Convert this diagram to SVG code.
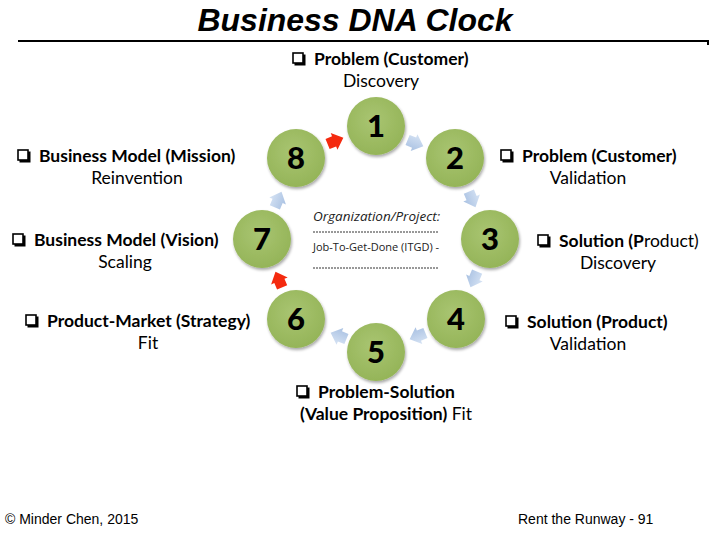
<svg xmlns="http://www.w3.org/2000/svg" width="720" height="540" viewBox="0 0 720 540">
<defs>
  <radialGradient id="g" cx="0.45" cy="0.4" r="0.65">
    <stop offset="0" stop-color="#a9c572"/>
    <stop offset="1" stop-color="#93b356"/>
  </radialGradient>
  <linearGradient id="b" x1="0" y1="0" x2="0" y2="1">
    <stop offset="0" stop-color="#d6e3f4"/>
    <stop offset="1" stop-color="#a9c1e2"/>
  </linearGradient>
  <filter id="sh" x="-20%" y="-20%" width="150%" height="150%">
    <feGaussianBlur in="SourceAlpha" stdDeviation="1.5"/>
    <feOffset dx="1" dy="2"/>
    <feComponentTransfer><feFuncA type="linear" slope="0.35"/></feComponentTransfer>
    <feMerge><feMergeNode/><feMergeNode in="SourceGraphic"/></feMerge>
  </filter>
  <path id="arr" d="M-8,-5.5 L-1,-5.5 L-1,-9 L9,0 L-1,9 L-1,5.5 L-8,5.5 Z"/>
  <g id="cb">
    <rect x="1.5" y="1.5" width="11" height="11" fill="#000"/>
    <rect x="0" y="0" width="10" height="10" fill="#fff" stroke="#000" stroke-width="1.6"/>
  </g>
</defs>
<style>
  .title{font-family:"Liberation Sans",Arial,sans-serif;font-weight:bold;font-style:italic;font-size:31px;fill:#000}
  .foot{font-family:"Liberation Sans",Arial,sans-serif;font-size:14px;fill:#000}
  .lb{font-family:Lato,"Open Sans",sans-serif;font-size:17.5px;fill:#000}
  .b{font-weight:bold}
  .num{font-family:Lato,"Open Sans",sans-serif;font-weight:900;font-size:31px;fill:#000;text-anchor:middle}
  .node circle{fill:url(#g);filter:url(#sh)}
  .ctr{font-family:"Open Sans","Noto Sans",sans-serif;fill:#222}
  .dot{stroke:#333;stroke-width:1;stroke-dasharray:2 1}
  .blue{fill:url(#b)}
  .red{fill:#f42a0f}
</style>
<rect width="720" height="540" fill="#fff"/>

<text class="title" x="355" y="31" text-anchor="middle" textLength="315" lengthAdjust="spacingAndGlyphs">Business DNA Clock</text>
<path d="M18,41 H708 V45" fill="none" stroke="#000" stroke-width="2"/>

<g id="center">
  <text class="ctr" x="313" y="221" font-size="13.5" font-style="italic">Organization/Project:</text>
  <line class="dot" x1="313" y1="232" x2="438" y2="232"/>
  <text class="ctr" x="313" y="251" font-size="11">Job-To-Get-Done (ITGD) -</text>
  <line class="dot" x1="313" y1="268" x2="438" y2="268"/>
</g>

<g id="connectors">
  <use href="#arr" class="blue" transform="translate(415,143) rotate(22)"/>
  <use href="#arr" class="blue" transform="translate(472,199) rotate(67)"/>
  <use href="#arr" class="blue" transform="translate(474,279) rotate(113)"/>
  <use href="#arr" class="blue" transform="translate(418,336) rotate(158)"/>
  <use href="#arr" class="blue" transform="translate(339,336) rotate(202)"/>
  <use href="#arr" class="red" transform="translate(279,280) rotate(247)"/>
  <use href="#arr" class="blue" transform="translate(278,200) rotate(293)"/>
  <use href="#arr" class="red" transform="translate(335,141) rotate(338)"/>
</g>

<g id="n1" class="node"><circle cx="376" cy="126" r="29"/><text class="num" x="376" y="137">1</text></g>
<g id="n2" class="node"><circle cx="455" cy="158" r="29"/><text class="num" x="455" y="169">2</text></g>
<g id="n3" class="node"><circle cx="490" cy="239" r="29"/><text class="num" x="490" y="250">3</text></g>
<g id="n4" class="node"><circle cx="456" cy="319" r="29"/><text class="num" x="456" y="330">4</text></g>
<g id="n5" class="node"><circle cx="376" cy="352" r="29"/><text class="num" x="376" y="363">5</text></g>
<g id="n6" class="node"><circle cx="296" cy="319" r="29"/><text class="num" x="296" y="330">6</text></g>
<g id="n7" class="node"><circle cx="262" cy="239" r="29"/><text class="num" x="262" y="250">7</text></g>
<g id="n8" class="node"><circle cx="296" cy="158" r="29"/><text class="num" x="296" y="169">8</text></g>

<g id="l1">
  <use href="#cb" x="293" y="53"/>
  <text class="lb b" x="314" y="65">Problem (Customer)</text>
  <text class="lb" x="381" y="87" text-anchor="middle">Discovery</text>
</g>
<g id="l2">
  <use href="#cb" x="501" y="150"/>
  <text class="lb b" x="522" y="162">Problem (Customer)</text>
  <text class="lb" x="588" y="184" text-anchor="middle">Validation</text>
</g>
<g id="l3">
  <use href="#cb" x="538" y="235"/>
  <text class="lb" x="559" y="247"><tspan class="b">Solution (P</tspan>roduct)</text>
  <text class="lb" x="618" y="269" text-anchor="middle">Discovery</text>
</g>
<g id="l4">
  <use href="#cb" x="506" y="316"/>
  <text class="lb b" x="527" y="328">Solution (Product)</text>
  <text class="lb" x="588" y="350" text-anchor="middle">Validation</text>
</g>
<g id="l5">
  <use href="#cb" x="297" y="386"/>
  <text class="lb b" x="318" y="398">Problem-Solution</text>
  <text class="lb" x="386" y="420" text-anchor="middle"><tspan class="b">(Value Proposition)</tspan> Fit</text>
</g>
<g id="l6">
  <use href="#cb" x="26" y="315"/>
  <text class="lb b" x="47" y="327">Product-Market (Strategy)</text>
  <text class="lb" x="148" y="349" text-anchor="middle">Fit</text>
</g>
<g id="l7">
  <use href="#cb" x="13" y="234"/>
  <text class="lb b" x="34" y="246">Business Model (Vision)</text>
  <text class="lb" x="125" y="268" text-anchor="middle">Scaling</text>
</g>
<g id="l8">
  <use href="#cb" x="18" y="150"/>
  <text class="lb b" x="39" y="162">Business Model (Mission)</text>
  <text class="lb" x="137" y="184" text-anchor="middle">Reinvention</text>
</g>

<text class="foot" x="5" y="524">© Minder Chen, 2015</text>
<text class="foot" x="518" y="524">Rent the Runway - 91</text>
</svg>
